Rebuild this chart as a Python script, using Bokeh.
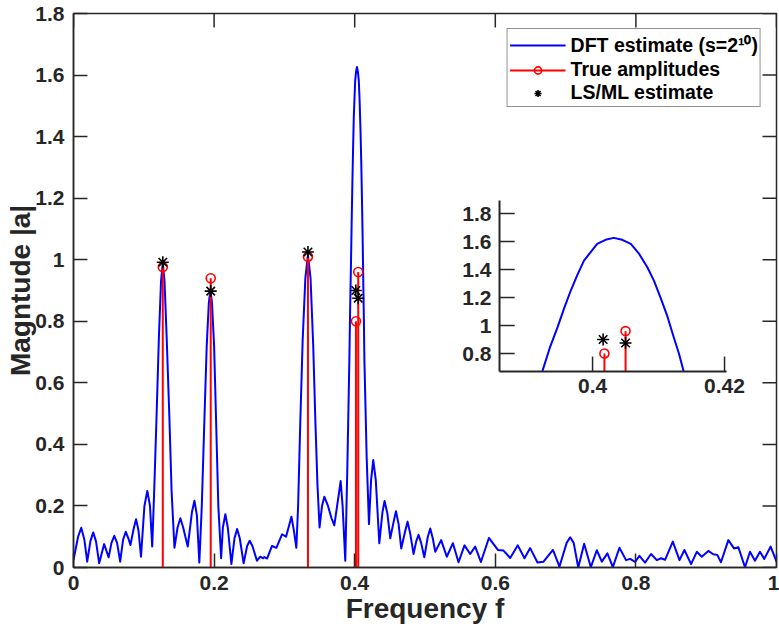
import numpy as np
from bokeh.plotting import figure
from bokeh.models import Range1d, LinearAxis, FixedTicker, Legend, LegendItem
from bokeh.core.properties import value
from bokeh.embed import file_html
from bokeh.resources import INLINE

# ---------------- data ----------------
dft_f = [0.000, 0.0065, 0.011, 0.0155, 0.0195, 0.024, 0.028, 0.032, 0.0365, 0.0436, 0.050, 0.054, 0.058, 0.062, 0.0664,
         0.0705, 0.0744, 0.078, 0.081, 0.0855, 0.089, 0.0925, 0.096, 0.1009, 0.105, 0.1088, 0.112,
         0.1148, 0.118, 0.1215, 0.1245, 0.127, 0.1295, 0.1325, 0.1365, 0.1395, 0.1436,
         0.148, 0.152, 0.156, 0.1625, 0.1685, 0.172, 0.1755, 0.179,
         0.1825, 0.1862, 0.1895, 0.1925, 0.1948, 0.197, 0.200, 0.2028, 0.206, 0.210,
         0.2125, 0.216, 0.2195, 0.2246, 0.229, 0.2327, 0.2365, 0.242, 0.247, 0.2506, 0.2545, 0.261, 0.2658, 0.2696,
         0.2715, 0.2753, 0.2824, 0.2886, 0.2966, 0.3023, 0.3065, 0.310, 0.3135, 0.317,
         0.3195, 0.3227, 0.326, 0.3298, 0.3335, 0.3372, 0.341, 0.344, 0.347, 0.350,
         0.3535, 0.3568, 0.362, 0.367, 0.371, 0.3775, 0.380, 0.3828, 0.3866,
         0.3895, 0.3924, 0.3935, 0.3947, 0.3957, 0.3967, 0.3977, 0.3987, 0.4007, 0.40197, 0.4032, 0.4045, 0.4058,
         0.4070, 0.4083, 0.4093, 0.4103, 0.4113, 0.4123, 0.4131, 0.4138, 0.417, 0.4203,
         0.4233, 0.4264, 0.4300, 0.435, 0.4395, 0.4425, 0.4465, 0.4506, 0.4555, 0.4587, 0.4625, 0.4662,
         0.472, 0.4752, 0.479, 0.4837, 0.4875, 0.4908, 0.4945, 0.499, 0.504, 0.5075, 0.511, 0.5146, 0.523, 0.531,
         0.5397, 0.5477, 0.5562, 0.5643, 0.5714, 0.5795, 0.5909, 0.6037, 0.6117, 0.6212, 0.632, 0.6415, 0.6496, 0.660,
         0.6686, 0.682, 0.6913, 0.7015, 0.7065, 0.7115, 0.718, 0.7264, 0.7359, 0.7444, 0.7515, 0.7595, 0.7672, 0.7766,
         0.786, 0.7918, 0.7989, 0.805, 0.813, 0.8216, 0.8297, 0.8358, 0.8415, 0.8525, 0.862, 0.869, 0.8785, 0.8866,
         0.8937, 0.903, 0.910, 0.9158, 0.921, 0.9315, 0.9396, 0.9457, 0.9552, 0.9623, 0.9694, 0.9765, 0.9826, 0.9917, 1.000]
dft_mag = [0.024, 0.100, 0.129, 0.090, 0.019, 0.085, 0.114, 0.085, 0.014, 0.076, 0.033, 0.080, 0.103, 0.080, 0.019,
           0.090, 0.116, 0.095, 0.073, 0.125, 0.157, 0.120, 0.035, 0.200, 0.249, 0.200, 0.068,
           0.25, 0.48, 0.75, 0.93, 0.99, 0.93, 0.75, 0.48, 0.25, 0.064,
           0.130, 0.160, 0.130, 0.068, 0.180, 0.217, 0.170, 0.016,
           0.20, 0.48, 0.72, 0.86, 0.902, 0.86, 0.72, 0.48, 0.20, 0.030,
           0.130, 0.173, 0.130, 0.011, 0.095, 0.125, 0.095, 0.014, 0.070, 0.087, 0.070, 0.022, 0.035, 0.030,
           0.034, 0.029, 0.070, 0.064, 0.108, 0.100, 0.135, 0.165, 0.120, 0.064,
           0.20, 0.48, 0.74, 0.94, 1.015, 0.94, 0.72, 0.48, 0.27, 0.130,
           0.200, 0.230, 0.200, 0.160, 0.137, 0.240, 0.281, 0.200, 0.022,
           0.32, 0.674, 0.838, 0.988, 1.124, 1.25, 1.362, 1.464, 1.583, 1.612, 1.626, 1.612, 1.583,
           1.516, 1.416, 1.321, 1.20, 1.071, 0.916, 0.798, 0.674, 0.36, 0.141,
           0.284, 0.349, 0.284, 0.079, 0.180, 0.216, 0.175, 0.095, 0.150, 0.183, 0.140, 0.062,
           0.120, 0.149, 0.110, 0.044, 0.085, 0.106, 0.080, 0.033, 0.100, 0.127, 0.095, 0.051, 0.089, 0.035,
           0.079, 0.017, 0.072, 0.044, 0.068, 0.018, 0.096, 0.057, 0.055, 0.031, 0.072, 0.030, 0.063, 0.016,
           0.019, 0.057, 0.003, 0.080, 0.098, 0.080, 0.000, 0.077, 0.001, 0.056, 0.019, 0.046, 0.001, 0.064,
           0.024, 0.028, 0.018, 0.038, 0.016, 0.044, 0.024, 0.030, 0.025, 0.084, 0.024, 0.057, 0.011, 0.051,
           0.035, 0.054, 0.043, 0.041, 0.017, 0.089, 0.062, 0.066, 0.001, 0.051, 0.022, 0.051, 0.028, 0.068, 0.019]

true_f = [0.127, 0.1952, 0.3335, 0.4018, 0.4050]
true_amp = [0.976, 0.940, 1.010, 0.800, 0.960]
est_f = [0.127, 0.1952, 0.3335, 0.4016, 0.4050]
est_amp = [0.992, 0.898, 1.025, 0.900, 0.875]

x_ticks = [0.0, 0.2, 0.4, 0.6, 0.8, 1.0]
x_tick_labels = ["0", "0.2", "0.4", "0.6", "0.8", "1"]
y_ticks = [0.0, 0.2, 0.4, 0.6, 0.8, 1.0, 1.2, 1.4, 1.6, 1.8]
y_tick_labels = ["0", "0.2", "0.4", "0.6", "0.8", "1", "1.2", "1.4", "1.6", "1.8"]

inset_x_ticks = [0.40, 0.42]
inset_x_tick_labels = ["0.4", "0.42"]
inset_y_ticks = [0.8, 1.0, 1.2, 1.4, 1.6, 1.8]
inset_y_tick_labels = ["0.8", "1", "1.2", "1.4", "1.6", "1.8"]

# ---------------- layout / style constants ----------------
FONT = "Liberation Sans"
TXT = "#262626"
BLUE = "#0000ff"
RED = "#ff0000"
TICK_FS = "21px"
LABEL_FS = "28px"
LEG_FS = "19.5px"
TICK_PX = 28                    # inward tick = half of this

X0, X1 = 0.0, 1.0
Y0, Y1 = 0.0, 1.8
INSET_X = (0.3859, 0.4203)      # inset data limits
INSET_Y = (0.6714, 1.893)
INSET_TX = (0.606, 0.9289)      # inset placement in main data coords
INSET_TY = (0.6368, 1.1924)
TICK_LEN_X = 0.0023             # inset tick length in inset x units
TICK_LEN_Y = 0.107              # inset tick length in inset y units

p = figure(width=779, height=627, x_range=Range1d(X0, X1), y_range=Range1d(Y0, Y1),
           output_backend="svg", toolbar_location=None,
           min_border_left=73, min_border_right=3, min_border_top=13, min_border_bottom=60,
           background_fill_color="white", border_fill_color="white")
p.xgrid.visible = False
p.ygrid.visible = False
p.outline_line_color = TXT
p.outline_line_width = 1.5
p.xaxis.visible = False
p.yaxis.visible = False

def style_axis(ax):
    ax.axis_line_color = TXT
    ax.axis_line_width = 1.5
    ax.major_tick_line_color = TXT
    ax.major_tick_line_width = 1.5
    ax.major_tick_in = TICK_PX // 2
    ax.major_tick_out = 0
    ax.minor_tick_line_color = None
    ax.major_label_text_font = FONT
    ax.major_label_text_font_style = "bold"
    ax.major_label_text_color = TXT
    ax.major_label_text_font_size = TICK_FS
    ax.axis_label_text_font = FONT
    ax.axis_label_text_font_style = "bold"
    ax.axis_label_text_font_size = LABEL_FS
    ax.axis_label_text_color = TXT

xb = LinearAxis(ticker=FixedTicker(ticks=x_ticks),
                major_label_overrides=dict(zip(x_ticks, x_tick_labels)),
                axis_label="Frequency f")
style_axis(xb)
xb.major_label_standoff = 8
xb.axis_label_standoff = 0
p.add_layout(xb, "below")

yl = LinearAxis(ticker=FixedTicker(ticks=y_ticks),
                major_label_overrides=dict(zip(y_ticks, y_tick_labels)),
                axis_label="Magntude |a|")
style_axis(yl)
yl.major_label_standoff = 9
yl.axis_label_standoff = -4
p.add_layout(yl, "left")

# inward ticks on the top and right edges of the box (half of each dash is clipped by the frame)
p.scatter(x=[X1] * len(y_ticks), y=y_ticks, marker="dash", size=TICK_PX, line_color=TXT, line_width=1.5)
p.scatter(x=x_ticks, y=[Y1] * len(x_ticks), marker="dash", angle=np.pi / 2, size=TICK_PX,
          line_color=TXT, line_width=1.5)

# ---------------- main plot ----------------
r_line = p.line(dft_f, dft_mag, line_color=BLUE, line_width=2, line_join="round")
r_stem = p.segment(x0=true_f, y0=[Y0] * len(true_f), x1=true_f, y1=true_amp, line_color=RED, line_width=2)
r_circ = p.scatter(true_f, true_amp, marker="circle", size=9, fill_color=None, line_color=RED, line_width=1.6)
r_ast = p.scatter(est_f, est_amp, marker="asterisk", size=12, line_color="black", line_width=1.6)

legend = Legend(items=[LegendItem(label="DFT estimate (s=2¹⁰)", renderers=[r_line]),
                       LegendItem(label="True amplitudes", renderers=[r_stem, r_circ]),
                       LegendItem(label="LS/ML estimate", renderers=[r_ast])],
                location="top_right", margin=15, padding=2, spacing=0,
                glyph_width=56, glyph_height=18, label_standoff=5, label_height=18,
                label_text_font=FONT, label_text_font_style="bold", label_text_font_size=LEG_FS,
                label_text_color="black", border_line_color=TXT, border_line_width=1,
                background_fill_color="white", background_fill_alpha=1.0)
p.add_layout(legend)

# ---------------- inset ----------------
ins = p.subplot(x_source=Range1d(*INSET_X), y_source=Range1d(*INSET_Y),
                x_target=Range1d(*INSET_TX), y_target=Range1d(*INSET_TY))

sel = [i for i, (f, m) in enumerate(zip(dft_f, dft_mag))
       if INSET_X[0] <= f <= INSET_X[1] and m >= INSET_Y[0] - 0.005]
ins.line([dft_f[i] for i in sel], [dft_mag[i] for i in sel], line_color=BLUE, line_width=2, line_join="round")

tsel = [i for i, f in enumerate(true_f) if INSET_X[0] <= f <= INSET_X[1]]
tf = [true_f[i] for i in tsel]
ta = [true_amp[i] for i in tsel]
ins.segment(x0=tf, y0=[INSET_Y[0]] * len(tf), x1=tf, y1=ta, line_color=RED, line_width=2)
ins.scatter(tf, ta, marker="circle", size=9, fill_color=None, line_color=RED, line_width=1.6)
esel = [i for i, f in enumerate(est_f) if INSET_X[0] <= f <= INSET_X[1]]
ins.scatter([est_f[i] for i in esel], [est_amp[i] for i in esel], marker="asterisk", size=12,
            line_color="black", line_width=1.6)

# inset axes lines
ins.segment(x0=[INSET_X[0], INSET_X[0]], y0=[INSET_Y[0], INSET_Y[0]],
            x1=[INSET_X[0], INSET_X[1]], y1=[INSET_Y[1], INSET_Y[0]], line_color=TXT, line_width=2)
# inset ticks
ins.segment(x0=[INSET_X[0]] * len(inset_y_ticks), y0=inset_y_ticks,
            x1=[INSET_X[0] + TICK_LEN_X] * len(inset_y_ticks), y1=inset_y_ticks, line_color=TXT, line_width=1.5)
ins.segment(x0=inset_x_ticks, y0=[INSET_Y[0]] * len(inset_x_ticks),
            x1=inset_x_ticks, y1=[INSET_Y[0] + TICK_LEN_Y] * len(inset_x_ticks), line_color=TXT, line_width=1.5)
# inset tick labels
ins.text(x=[INSET_X[0]] * len(inset_y_ticks), y=inset_y_ticks, text=inset_y_tick_labels,
         x_offset=-8, text_align="right", text_baseline="middle",
         text_font=value(FONT), text_font_style="bold", text_font_size=TICK_FS, text_color=TXT)
ins.text(x=inset_x_ticks, y=[INSET_Y[0]] * len(inset_x_ticks), text=inset_x_tick_labels,
         y_offset=7, text_align="center", text_baseline="top",
         text_font=value(FONT), text_font_style="bold", text_font_size=TICK_FS, text_color=TXT)

open("out.html", "w").write(file_html(p, INLINE))
